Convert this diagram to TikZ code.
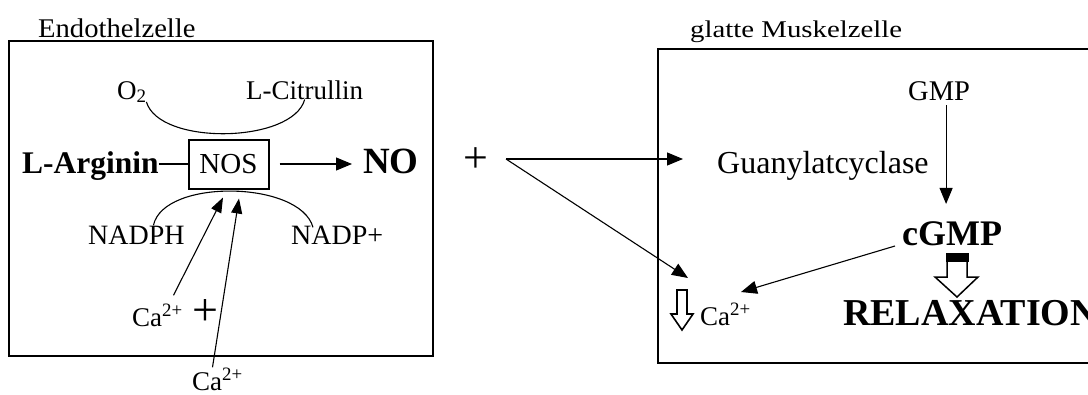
\documentclass[tikz,border=0pt]{standalone}
\usepackage{fontspec}
\setmainfont{Liberation Serif}
\usetikzlibrary{arrows.meta,calc}
\newcommand\fsz[1]{\fontsize{#1}{#1}\selectfont}
\begin{document}
\begin{tikzpicture}[x=1pt,y=-1pt,
  txt/.style={inner sep=0pt, anchor=base west},
  cellbox/.style={draw, line width=2.4pt},
  arr/.style={-{Triangle[length=16pt,width=13pt]}, line width=1.1pt},
  sarr/.style={-{Triangle[length=15pt,width=11pt]}, line width=1.1pt},
  hollow/.style={draw, fill=white, line width=1.5pt, line join=miter}]
\useasboundingbox (0,0) rectangle (1088,394);
\clip (0,0) rectangle (1088,394);
% cells
\draw[cellbox] (9,41) rectangle (433,356);
\draw[cellbox] (658,49) rectangle (1110,363);
\node[txt, font=\fsz{27}] (endo) at (38,37) {\scalebox{1.06}[1]{Endothelzelle}};
\node[txt, font=\fsz{24}] (glatt) at (690,37) {\scalebox{1.2}[1]{glatte Muskelzelle}};
% left cell
\node[txt, font=\fsz{27}] (o2) at (117,99) {O\raisebox{-0.3ex}{\fsz{19}2}};
\node[txt, font=\fsz{27}] (lcit) at (246,99) {L-Citrullin};
\node[txt, font=\fsz{31.5}\bfseries] (arg) at (22,173) {L-Arginin};
\node[draw, line width=2pt, minimum width=80pt, minimum height=49pt, inner sep=0pt, font=\fsz{29}] (nos) at (228.5,164) {NOS};
\node[txt, font=\fsz{37}\bfseries] (no) at (363,173) {NO};
\node[txt, font=\fsz{28}] (nadph) at (88,244) {NADPH};
\node[txt, font=\fsz{28}] (nadp) at (291,244) {NADP+};
\node[txt, font=\fsz{27}] (ca1) at (132,326) {Ca\textsuperscript{2+}};
\node[inner sep=0pt, font=\fsz{46}] (plus1) at (205,313) {+};
\node[txt, font=\fsz{27}] (ca2) at (192,390) {Ca\textsuperscript{2+}};
\draw[line width=1.1pt] (arg.east |- nos.west) -- (nos.west);
\draw[arr, shorten <=10pt, shorten >=11pt] (nos.east) -- (nos.east -| no.west);
\draw[line width=1.1pt] ([yshift=1pt]o2.south east) .. controls +(13,44) and +(-12,44) .. (lcit.south);
\draw[line width=1.1pt] ($(nadph.north)+(17,0)$) .. controls +(10,-47) and +(-13,-47) .. ($(nadp.north west)+(22,2)$);
\draw[sarr] ($(ca1.north)+(16,-9)$) -- ($(nos.south)+(-5.5,8)$);
\draw[sarr] ($(ca2.north)+(-5,-1)$) -- ($(nos.south)+(10.5,9)$);
% middle
\node[inner sep=0pt, font=\fsz{44}] (plus2) at (476,160) {+};
\coordinate (src) at (506,159);
\coordinate (catip) at (688,278);
% right cell
\node[txt, font=\fsz{32}] (gc) at (717,173) {Guanylatcyclase};
\node[txt, font=\fsz{28.5}] (gmp) at (908,100) {GMP};
\node[txt, font=\fsz{36}\bfseries] (cgmp) at (902,245) {cGMP};
\node[txt, font=\fsz{38}\bfseries] (relax) at (843,325) {RELAXATION};
\node[txt, font=\fsz{27}] (ca3) at (700,325) {Ca\textsuperscript{2+}};
\draw[arr, shorten >=34pt] (src) -- (src -| gc.west);
\draw[arr] (src) -- (catip);
\draw[arr, shorten <=5pt, shorten >=17pt] ([xshift=7pt]gmp.south) -- ([xshift=7pt]gmp.south |- cgmp.north);
\coordinate (cgstart) at ($(cgmp.base west)+(-7,1)$);
\coordinate (ca3tip) at ($(ca3.base east)+(-10,-33)$);
\draw[arr] (cgstart) -- (ca3tip);
% hollow arrows
\draw[hollow] (947,261) -- (947,277) -- (935,277) -- (957,297) -- (978,277) -- (967,277) -- (967,261);
\fill (945.5,253) rectangle (968.5,262);
\draw[hollow, line width=1.6pt] (677,290) -- (687,290) -- (687,314) -- (693,314) -- (682,330) -- (671,314) -- (677,314) -- cycle;
\end{tikzpicture}
\end{document}
